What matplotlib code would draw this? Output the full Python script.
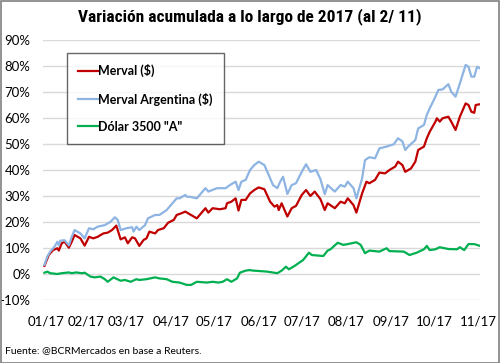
import matplotlib
matplotlib.use('Agg')
import matplotlib.pyplot as plt
import matplotlib.dates as mdates
from matplotlib.patches import Rectangle
import pandas as pd

# days counted from 2017-01-02, values in %
start = pd.Timestamp('2017-01-02')

merval_days = [1, 4, 7, 10, 11, 13, 15, 18, 20, 22, 26, 29, 32, 35, 38, 42, 45, 48, 51, 54,
               57, 59, 62, 64, 67, 70, 72, 74, 78, 80, 84, 87, 91, 93, 96, 99, 102, 107, 113, 115,
               118, 123, 127, 128, 131, 134, 136, 138, 141, 144, 147, 150, 154, 158, 161, 163, 164, 166, 170, 173,
               176, 180, 183, 186, 189, 193, 196, 198, 203, 207, 210, 212, 216, 218, 222, 225, 227, 231, 234, 238,
               241, 245, 247, 250, 252, 256, 259, 261, 265, 267, 269, 273, 274, 276, 278, 282, 284, 287, 290, 294,
               296, 298, 300, 301, 304]
merval_vals = [3.1, 7.3, 9.2, 9.9, 9.0, 11.8, 12.4, 10.1, 12.4, 15.0, 13.7, 10.9, 14.3, 13.7, 14.3, 15.6, 15.9, 16.9, 18.6, 13.3,
               14.1, 11.8, 14.1, 13.7, 10.8, 13.1, 13.7, 16.3, 15.6, 16.9, 17.6, 19.7, 20.8, 22.7, 23.3, 24.0, 23.0, 21.4, 25.3, 23.6,
               25.3, 24.9, 25.3, 27.2, 27.8, 29.1, 24.4, 28.5, 28.5, 31.0, 32.3, 33.3, 32.6, 27.8, 25.9, 26.5, 24.6, 27.2, 22.1, 25.3,
               26.2, 30.4, 32.3, 30.0, 31.7, 28.8, 24.6, 27.2, 25.3, 27.8, 27.2, 29.1, 26.5, 23.6, 31.0, 35.5, 34.9, 36.2, 39.0, 38.7,
               40.0, 41.3, 43.2, 41.9, 39.3, 40.6, 43.2, 47.7, 49.0, 52.2, 54.7, 58.6, 59.9, 58.6, 59.9, 60.5, 58.6, 55.4, 60.5, 65.6,
               65.0, 62.4, 62.0, 65.0, 65.3]

arg_days = [1, 3, 5, 8, 10, 11, 12, 15, 18, 20, 22, 26, 29, 32, 35, 38, 43, 47, 50, 52,
            54, 58, 62, 63, 65, 67, 71, 73, 78, 81, 86, 91, 93, 95, 99, 100, 102, 107, 113, 115,
            121, 127, 130, 134, 136, 138, 141, 144, 147, 150, 154, 157, 160, 163, 165, 167, 170, 173, 176, 180,
            183, 186, 190, 193, 196, 198, 203, 207, 210, 212, 216, 218, 222, 224, 227, 231, 234, 239, 244, 247,
            250, 252, 254, 259, 261, 265, 267, 269, 273, 275, 278, 282, 284, 287, 290, 294, 296, 298, 300, 302,
            304]
arg_vals = [3.5, 6.7, 8.6, 10.5, 12.4, 11.0, 12.8, 13.0, 11.0, 14.3, 16.9, 15.6, 13.7, 17.6, 17.2, 18.2, 18.8, 20.1, 21.8, 20.8,
            16.9, 17.6, 18.0, 16.3, 18.2, 16.9, 18.8, 21.4, 22.7, 22.7, 24.6, 27.8, 29.1, 29.1, 30.4, 29.7, 29.7, 29.1, 33.0, 31.7,
            33.0, 33.0, 34.2, 35.5, 32.3, 35.5, 36.2, 40.0, 41.9, 43.2, 41.9, 38.1, 34.2, 33.0, 35.5, 37.4, 30.8, 34.2, 34.9, 39.3,
            42.2, 39.3, 40.0, 36.5, 30.7, 34.2, 31.7, 34.2, 33.6, 35.5, 33.0, 29.1, 36.8, 43.8, 44.9, 44.5, 48.3, 49.0, 49.9, 52.2,
            51.0, 47.7, 49.0, 51.5, 56.0, 57.3, 61.2, 63.7, 68.2, 70.8, 71.0, 73.0, 70.1, 68.2, 73.3, 80.4, 79.7, 75.9, 75.9, 79.7,
            79.1]

dolar_days = [1, 3, 5, 10, 13, 18, 20, 23, 27, 29, 33, 36, 40, 43, 45, 49, 54, 57, 61, 65,
              67, 72, 78, 81, 86, 90, 95, 100, 103, 107, 114, 118, 122, 125, 128, 131, 135, 137, 141, 144,
              146, 149, 156, 163, 166, 169, 171, 175, 181, 185, 187, 193, 195, 198, 200, 202, 205, 209, 212, 218,
              221, 224, 227, 234, 239, 241, 251, 255, 260, 265, 267, 269, 273, 276, 282, 288, 290, 293, 296, 300,
              304]
dolar_vals = [0.5, 0.9, 0.3, 0.0, 0.3, 0.6, 0.3, 0.6, 0.3, 0.5, -1.0, -1.3, -1.0, -2.0, -3.0, -1.3, -2.6, -2.3, -3.0, -2.0,
              -2.3, -2.0, -1.3, -1.7, -2.0, -3.0, -3.3, -4.2, -4.2, -3.0, -3.3, -3.0, -3.3, -3.0, -2.0, -3.0, -1.7, 0.5, 1.3, 1.5,
              1.3, 1.2, 0.9, 0.3, 1.3, 2.8, 1.8, 3.1, 5.4, 8.2, 7.3, 7.0, 6.9, 9.0, 9.5, 10.5, 12.0, 11.2, 11.5, 12.2,
              11.2, 8.0, 9.0, 8.6, 9.9, 8.8, 8.6, 7.3, 8.2, 9.5, 10.8, 9.2, 9.5, 10.3, 9.6, 9.5, 10.3, 9.2, 11.5, 11.5,
              10.8]

y_ticks = [-10, 0, 10, 20, 30, 40, 50, 60, 70, 80, 90]
month_ticks = pd.date_range('2017-01-01', '2017-11-01', freq='MS')


def to_dates(days):
    return start + pd.to_timedelta(days, unit='D')


plt.rcParams['font.family'] = ['Lato', 'DejaVu Sans']

fig = plt.figure(figsize=(5.0, 3.63), dpi=100)
ax = fig.add_axes([0.086, 0.1736, 0.874, 0.7162])

ax.plot(to_dates(merval_days), merval_vals, color='#C00000', lw=1.6, label='Merval ($)')
ax.plot(to_dates(arg_days), arg_vals, color='#8DB4E2', lw=1.6, label='Merval Argentina ($)')
ax.plot(to_dates(dolar_days), dolar_vals, color='#00B050', lw=1.6, label='Dólar 3500 "A"')

ax.set_xlim(pd.Timestamp('2017-01-02'), pd.Timestamp('2017-11-02'))
ax.set_ylim(-10, 90)
ax.set_yticks(y_ticks)
ax.set_yticklabels(['%d%%' % v for v in y_ticks])
ticks = list(month_ticks)
ticks[0] = pd.Timestamp('2017-01-04')
ax.set_xticks(ticks)
ax.set_xticklabels([d.strftime('%m/%y') for d in month_ticks])
ax.grid(axis='y', color='#D9D9D9', lw=1)
ax.set_axisbelow(True)
for s in ax.spines.values():
    s.set_visible(False)
ax.tick_params(axis='both', length=0, labelsize=9.5, colors='black')
ax.tick_params(axis='y', pad=9)
ax.tick_params(axis='x', pad=11)

leg = ax.legend(loc='upper left', bbox_to_anchor=(0.055, 0.95), frameon=True, fancybox=False,
                edgecolor='#404040', prop={'weight': 'bold', 'size': 9}, handlelength=1.6,
                handletextpad=0.0, labelspacing=1.2, borderpad=0.9, borderaxespad=0)
leg.get_frame().set_linewidth(1.0)

# condensed heavy title
fig.text(0.5, 0.955, 'Variación acumulada a lo largo de 2017 (al 2/ 11)', ha='center', va='center',
         fontsize=12.5, fontweight='heavy', fontstretch='condensed',
         family=['Roboto Condensed', 'DejaVu Sans Condensed', 'Roboto'])
fig.text(0.01, 0.035, 'Fuente: @BCRMercados en base a Reuters.', ha='left', va='center', fontsize=7.5)

fig.patches.append(Rectangle((0.001, 0.001), 0.997, 0.996, transform=fig.transFigure,
                             fill=False, edgecolor='#808080', lw=1.2))

fig.savefig('out.png', dpi=100)
